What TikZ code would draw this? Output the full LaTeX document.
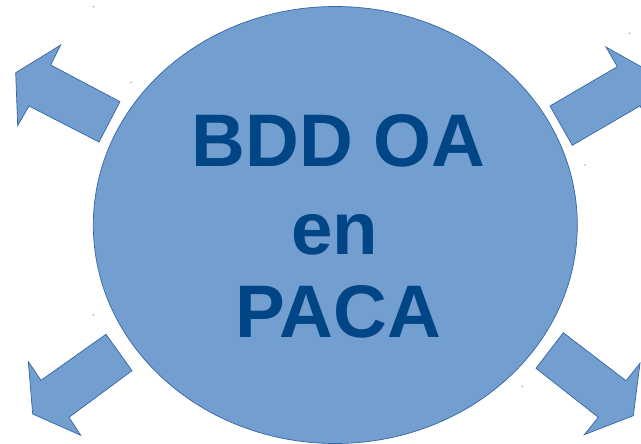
\documentclass[tikz,border=0pt]{standalone}
\usepackage{fontspec}
\setmainfont{Liberation Sans}
\usetikzlibrary{shapes.geometric}
\definecolor{blobfill}{HTML}{729FCF}
\definecolor{blobline}{HTML}{3465A4}
\definecolor{blobtext}{HTML}{004586}
\begin{document}
\begin{tikzpicture}[x=1pt,y=-1pt,
  shapestyle/.style={fill=blobfill,draw=blobline,line width=0.7pt,line join=miter},
  bigtext/.style={text=blobtext,font=\fontsize{74.5}{85.5}\selectfont\bfseries,anchor=base,inner sep=0pt},
  speck/.style={fill=blobline,draw=none}]
\useasboundingbox (0,0) rectangle (641,444);
\clip (0,0) rectangle (641,444);
% central ellipse
\node[shapestyle,ellipse,minimum width=484pt,minimum height=437pt,inner sep=0pt] (blob) at (335.3,225) {};
% arrows
\draw[shapestyle] (120,101.7) -- (50.7,65) -- (60.7,45) -- (15.7,72.7) -- (17.7,125.7) -- (29,106) -- (99,142) -- cycle;
\draw[shapestyle] (550,106) -- (617.3,66.7) -- (606,47) -- (651.9,72.8) -- (651.5,125.7) -- (640,105.9) -- (572.3,145.3) -- cycle;
\draw[shapestyle] (106,334.3) -- (41,380.3) -- (28.3,361.7) -- (32.7,414) -- (80.7,435.3) -- (69,417.3) -- (132,370.7) -- cycle;
\draw[shapestyle] (563.3,332.7) -- (626,380.7) -- (640,363.3) -- (633.3,415.7) -- (584.3,434.7) -- (598.3,417.3) -- (536,368.3) -- cycle;
% text
\node[bigtext] (l1) at (338.5,166.7) {BDD OA};
\node[bigtext] (l2) at (334.5,254.5) {en};
\node[bigtext] (l3) at (338.3,337.3) {PACA};
% tiny specks
\foreach \p in {(93.3,6.7),(131,82.3),(629.3,33.3),(585,165),(93.3,315),(522.3,386.3)}
  \fill[speck] \p circle (0.6);
\end{tikzpicture}
\end{document}
